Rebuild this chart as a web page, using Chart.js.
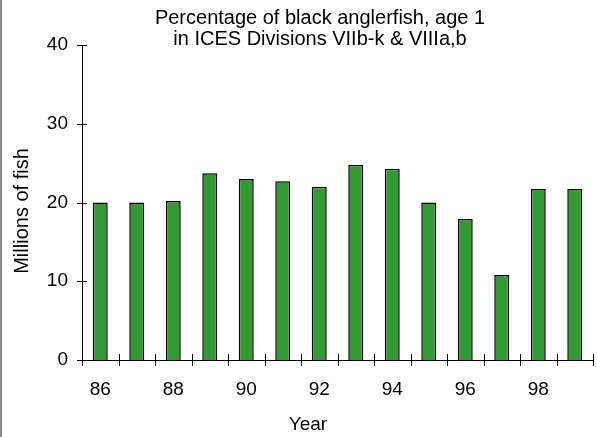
<!DOCTYPE html>
<html>
<head>
<meta charset="utf-8">
<script src="https://cdn.jsdelivr.net/npm/chart.js@4/dist/chart.umd.min.js"></script>
<style>
  html, body { margin: 0; padding: 0; background: #fff; }
  #wrap { width: 597px; height: 437px; position: relative; }
</style>
</head>
<body>
<div id="wrap"><canvas id="chart"></canvas></div>
<script>
// ── Black anglerfish, age 1 — millions of fish by year ──────────────────────

var years  = ['86', '87', '88', '89', '90', '91', '92', '93', '94', '95', '96', '97', '98', '99'];
var fish   = [20.0, 20.0, 20.2, 23.7, 23.0, 22.7, 22.0, 24.8, 24.3, 20.0, 17.9, 10.8, 21.7, 21.7];
var yTicks = [0, 10, 20, 30, 40];

var titleLines = ['Percentage of black anglerfish, age 1', 'in ICES Divisions VIIb-k & VIIIa,b'];
var xTitle = 'Year';
var yTitle = 'Millions of fish';

var FAMILY = 'Arial, "Liberation Sans", sans-serif';

// Frame, Excel-style crossing tick marks, title and axis titles
var decorPlugin = {
    id: 'decor',
    beforeDraw: function (chart) {
        var ctx = chart.ctx;
        ctx.save();
        ctx.fillStyle = '#fff';
        ctx.fillRect(0, 0, chart.width, chart.height);
        ctx.fillStyle = '#8a8a8a';
        ctx.fillRect(0, 0, 2, chart.height);
        ctx.restore();
    },
    afterDraw: function (chart) {
        var ctx  = chart.ctx;
        var xs   = chart.scales.x;
        var ys   = chart.scales.y;
        var area = chart.chartArea;
        ctx.save();
        ctx.strokeStyle = '#000';
        ctx.lineWidth = 1;
        ctx.beginPath();
        yTicks.forEach(function (v) {
            var y = Math.round(ys.getPixelForValue(v)) + 0.5;
            ctx.moveTo(area.left - 5, y);
            ctx.lineTo(area.left + 5, y);
        });
        for (var i = 0; i <= years.length; i++) {
            var x = Math.round(xs.getPixelForValue(i - 0.5)) + 0.5;
            ctx.moveTo(x, area.bottom - 6);
            ctx.lineTo(x, area.bottom + 6);
        }
        ctx.stroke();

        ctx.fillStyle    = '#000';
        ctx.textAlign    = 'center';
        ctx.textBaseline = 'middle';
        ctx.font = '20px ' + FAMILY;
        ctx.fillText(titleLines[0], 320, 18);
        ctx.fillText(titleLines[1], 320, 39);

        ctx.font = '19px ' + FAMILY;
        ctx.fillText(xTitle, 308, 425);

        ctx.font = '20px ' + FAMILY;
        ctx.translate(22, 211);
        ctx.rotate(-Math.PI / 2);
        ctx.fillText(yTitle, 0, 0);
        ctx.restore();
    }
};

new Chart(document.getElementById('chart'), {
    type: 'bar',
    data: {
        labels: years,
        datasets: [{
            data: fish,
            backgroundColor: '#339933',
            borderColor: '#000',
            borderWidth: 1.5,
            barPercentage: 0.41,
            categoryPercentage: 1.0
        }]
    },
    options: {
        responsive: true,
        maintainAspectRatio: false,
        animation: false,
        layout: { padding: { top: 45, right: 4, bottom: 0, left: 0 } },
        plugins: {
            legend:  { display: false },
            title:   { display: false },
            tooltip: { enabled: false }
        },
        scales: {
            x: {
                offset: true,
                grid:   { display: false, drawTicks: false },
                border: { display: true, color: '#000', width: 1 },
                ticks: {
                    autoSkip: false,
                    maxRotation: 0,
                    padding: 18,
                    color: '#000',
                    font: { family: FAMILY, size: 19 },
                    callback: function (v, i) { return i % 2 === 0 ? years[i] : ''; }
                },
                afterFit: function (s) { s.height = 77; }
            },
            y: {
                min: 0,
                max: 40,
                grid:   { display: false, drawTicks: false },
                border: { display: true, color: '#000', width: 1 },
                ticks: {
                    stepSize: 10,
                    padding: 14,
                    color: '#000',
                    font: { family: FAMILY, size: 19 }
                },
                afterFit: function (s) { s.width = 82; }
            }
        }
    },
    plugins: [decorPlugin]
});
</script>
</body>
</html>
